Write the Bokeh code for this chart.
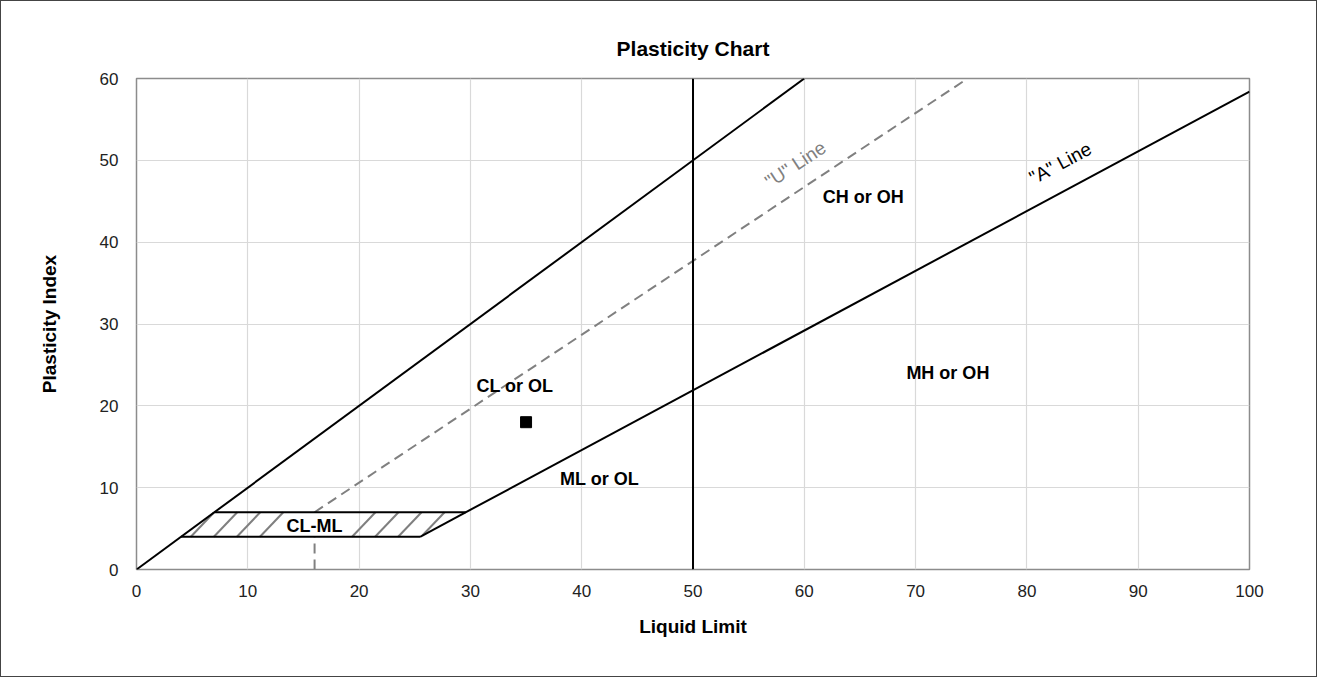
import math
from bokeh.plotting import figure
from bokeh.models import Label, Range1d, SingleIntervalTicker, Title
from bokeh.embed import file_html
from bokeh.resources import INLINE
from bokeh.core.properties import value

# ---- data ----
a_line_ll = [25.48, 100]
a_line_pi = [4, 58.4]
upper_ll = [0, 60]
upper_pi = [0, 60]
u_vert_ll = [16, 16]
u_vert_pi = [0, 4]
u_line_ll = [16, 74.67]
u_line_pi = [7, 60]
ll50_ll = [50, 50]
ll50_pi = [0, 60]
zone_pi_low = 4
zone_pi_high = 7
zone_top_ll = [7, 29.59]
zone_top_pi = [7, 7]
zone_bot_ll = [4, 25.48]
zone_bot_pi = [4, 4]
sample_ll = [35]
sample_pi = [18]

zone_names = ["CL or OL", "CH or OH", "MH or OH", "ML or OL", "CL-ML"]
zone_name_ll = [34.0, 65.3, 72.9, 41.6, 16.0]
zone_name_pi = [22.4, 45.5, 24.0, 11.0, 5.3]

line_names = ['"U" Line', '"A" Line']
line_name_ll = [59.2, 83.0]
line_name_pi = [49.5, 49.65]
line_slopes = [0.9, 0.73]

FONT = "Liberation Sans"

W, H = 1317, 677
L, R, T, B = 135, 69, 77, 109
fw, fh = W - L - R, H - T - B

p = figure(width=W, height=H, output_backend="svg", toolbar_location=None,
           x_range=Range1d(0, 100), y_range=Range1d(0, 60),
           min_border_left=L, min_border_right=R, min_border_top=T, min_border_bottom=B)
p.styles = {"border": "1px solid #444444", "box-sizing": "border-box"}
p.outline_line_color = "#8c8c8c"
p.outline_line_width = 1.5
p.background_fill_color = "white"
p.border_fill_color = "white"

p.title = Title(text="Plasticity Chart", align="center", text_font=FONT,
                text_font_size="21px", text_font_style="bold", standoff=37,
                text_color="black")

p.xaxis.ticker = SingleIntervalTicker(interval=10)
p.yaxis.ticker = SingleIntervalTicker(interval=10)
for ax in (p.xaxis, p.yaxis):
    ax.axis_line_color = None
    ax.major_tick_line_color = None
    ax.minor_tick_line_color = None
    ax.major_label_text_font = FONT
    ax.major_label_text_font_size = "17px"
    ax.major_label_text_color = "#222222"
    ax.axis_label_text_font = FONT
    ax.axis_label_text_font_size = "19px"
    ax.axis_label_text_font_style = "bold"
    ax.axis_label_text_color = "black"
p.xaxis.axis_label = "Liquid Limit"
p.yaxis.axis_label = "Plasticity Index"
p.xaxis.major_label_standoff = 9
p.yaxis.major_label_standoff = 12
p.xaxis.axis_label_standoff = 16
p.yaxis.axis_label_standoff = 37

p.xgrid.grid_line_color = "#d9d9d9"
p.ygrid.grid_line_color = "#d9d9d9"
p.xgrid.grid_line_width = 1.2
p.ygrid.grid_line_width = 1.2

# hatch of the CL-ML zone: diagonal strokes clipped to the zone's edges
a_slope, a_zero = 0.73, 20.0          # "A" line: PI = 0.73 (LL - 20)
hatch_start, hatch_step, hatch_run = 4.88, 2.07, 0.70
gap_lo, gap_hi = 12.0, 18.5            # strokes left out behind the label
hx0, hx1, hy0, hy1 = [], [], [], []
s = hatch_start
while s < zone_top_ll[1] + 1:
    if not (gap_lo < s < gap_hi):
        k = hatch_run
        upper = (s - zone_pi_low * k) / (1 - k)                     # left edge LL = PI
        lower = (s - zone_pi_low * k - a_zero) / (1 / a_slope - k)  # right edge: A line
        lo = max(zone_pi_low, lower)
        hi = min(zone_pi_high, upper)
        if hi - lo > 0.05:
            hy0.append(lo); hy1.append(hi)
            hx0.append(s + (lo - zone_pi_low) * k)
            hx1.append(s + (hi - zone_pi_low) * k)
    s += hatch_step
p.segment(hx0, hy0, hx1, hy1, line_color="#7f7f7f", line_width=2)

# U line (dashed)
p.line(u_vert_ll, u_vert_pi, line_color="#808080", line_width=2, line_dash="10 6")
p.line(u_line_ll, u_line_pi, line_color="#808080", line_width=2, line_dash="10 6")

# solid lines
for xs, ys in [(upper_ll, upper_pi), (a_line_ll, a_line_pi), (ll50_ll, ll50_pi),
               (zone_top_ll, zone_top_pi), (zone_bot_ll, zone_bot_pi)]:
    p.line(xs, ys, line_color="black", line_width=2)

# sample point
p.scatter(sample_ll, sample_pi, marker="square", size=11, fill_color="black", line_color="black")

# zone labels
for t, x, y in zip(zone_names, zone_name_ll, zone_name_pi):
    p.add_layout(Label(x=x, y=y, text=t, text_font=FONT, text_font_size="18px",
                       text_font_style="bold", text_align="center",
                       text_baseline="middle", text_color="black"))

# line labels (rotated along lines)
px_per_x = fw / 100.0
px_per_y = fh / 60.0
for t, x, y, sl, c in zip(line_names, line_name_ll, line_name_pi, line_slopes, ["#808080", "black"]):
    ang = math.atan(sl * px_per_y / px_per_x)
    p.add_layout(Label(x=x, y=y, text=t, angle=ang, text_font=FONT, text_font_size="19px",
                       text_align="center", text_baseline="middle", text_color=c))

open("out.html", "w").write(file_html(p, INLINE))
